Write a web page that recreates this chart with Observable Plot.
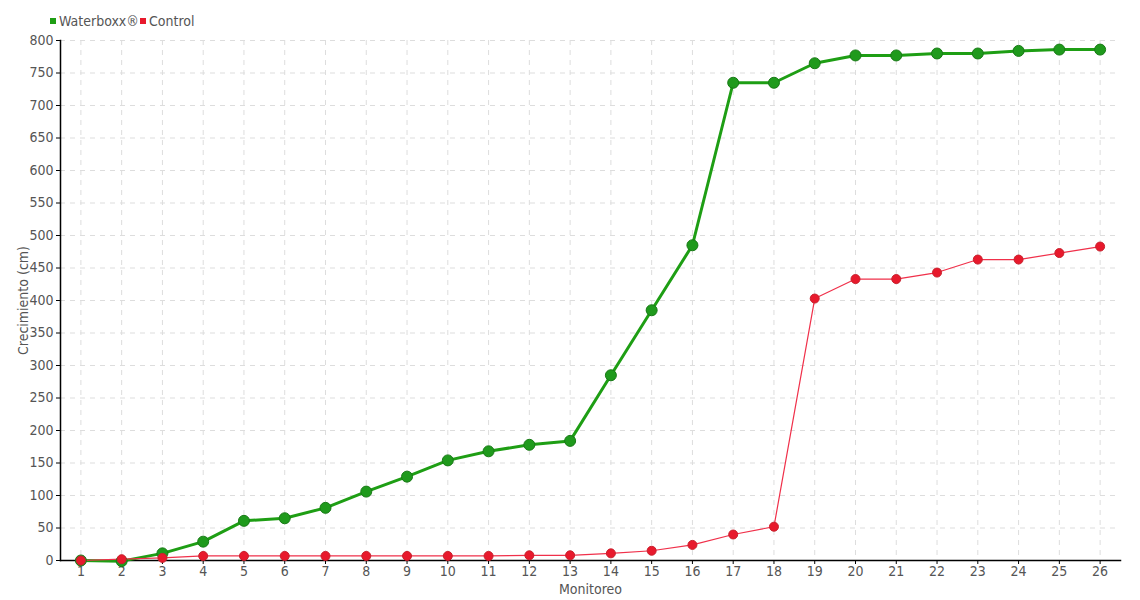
<!DOCTYPE html>
<html>
<head>
<meta charset="utf-8">
<script src="https://cdn.jsdelivr.net/npm/d3@7"></script>
<script src="https://cdn.jsdelivr.net/npm/@observablehq/plot@0.6"></script>
<style>
  body { margin: 0; background: #fff; font-family: "DejaVu Sans Condensed", "Liberation Sans Narrow", sans-serif; }
  #legend { height: 30px; position: relative; font-size: 14px; color: #555; }
  .item { position: absolute; top: 13px; display: flex; align-items: center; }
  .sw { width: 6px; height: 6px; margin-right: 3px; }
</style>
</head>
<body>
<div id="legend">
  <div class="item" style="left:50px"><span class="sw" style="background:#1e9e14"></span>Waterboxx®</div>
  <div class="item" style="left:140px"><span class="sw" style="background:#e8192c"></span>Control</div>
</div>
<div id="chart"></div>
<script>
const monitoreo = d3.range(1, 27);
const waterboxx = [0, -1, 11, 29, 61, 65, 81, 106, 129, 154, 168, 178, 184, 285, 385, 485, 735, 735, 765, 777, 777, 780, 780, 784, 786, 786];
const control = [0, 2, 4, 7, 7, 7, 7, 7, 7, 7, 7, 8, 8, 11, 15, 24, 40, 52, 403, 433, 433, 443, 463, 463, 473, 483];
const yTicks = d3.range(0, 801, 50);

const wData = monitoreo.map((m, i) => ({m, v: waterboxx[i]}));
const cData = monitoreo.map((m, i) => ({m, v: control[i]}));

const chart = Plot.plot({
  width: 1140,
  height: 570,
  marginTop: 10,
  marginLeft: 60,
  marginRight: 20,
  marginBottom: 40,
  style: {fontFamily: '"DejaVu Sans Condensed", "Liberation Sans Narrow", sans-serif', fontSize: "14px", color: "#555"},
  x: {type: "point", domain: monitoreo, padding: 0.5, round: false},
  y: {domain: [0, 800]},
  marks: [
    Plot.gridY(yTicks, {stroke: "#ddd", strokeOpacity: 1, strokeDasharray: "5,5"}),
    Plot.gridX(monitoreo, {stroke: "#ddd", strokeOpacity: 1, strokeDasharray: "5,5"}),
    Plot.axisY(yTicks, {tickSize: 4, fontSize: 14, fill: "#555", stroke: "#000", label: "Crecimiento (cm)", labelAnchor: "center", labelArrow: "none", labelOffset: 42, tickPadding: 3}),
    Plot.axisX(monitoreo, {tickSize: 4, fontSize: 14, fill: "#555", stroke: "#000", label: "Monitoreo", labelAnchor: "center", labelArrow: "none", labelOffset: 33, tickPadding: 2}),
    Plot.frame({anchor: "left", stroke: "#000", strokeWidth: 1.5}),
    Plot.frame({anchor: "bottom", stroke: "#000", strokeWidth: 1.5}),
    Plot.line(wData, {x: "m", y: "v", stroke: "#1e9e14", strokeWidth: 3}),
    Plot.line(cData, {x: "m", y: "v", stroke: "#f0304a", strokeWidth: 1.2}),
    Plot.dot(wData, {x: "m", y: "v", r: 5.5, fill: "#1f9a1c", stroke: "#187a16", strokeWidth: 1}),
    Plot.dot(cData, {x: "m", y: "v", r: 4.5, fill: "#e8192c", stroke: "#c8202c", strokeWidth: 1})
  ]
});
document.getElementById("chart").appendChild(chart);
</script>
</body>
</html>
